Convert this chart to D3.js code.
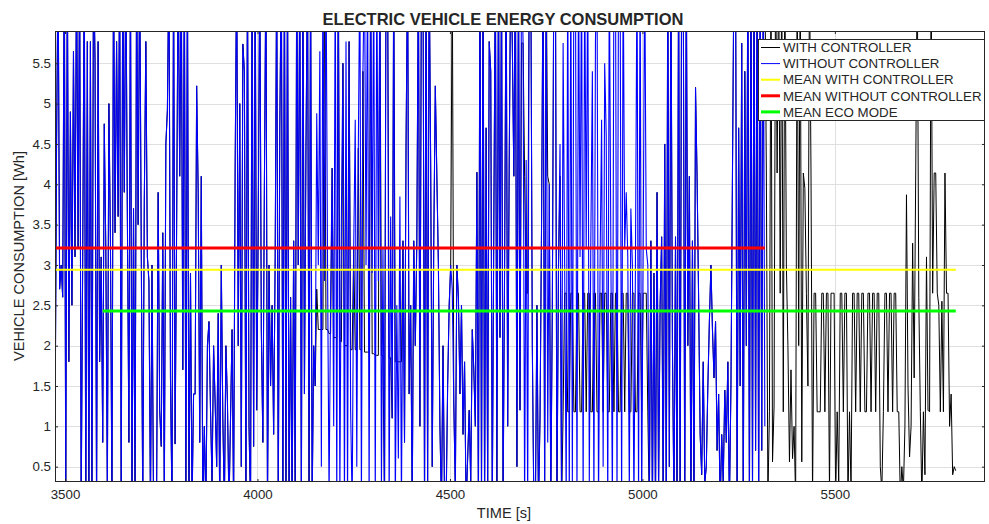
<!DOCTYPE html>
<html>
<head>
<meta charset="utf-8">
<script src="https://cdn.jsdelivr.net/npm/d3@7"></script>
<style>
  body { margin: 0; background: #fff; }
  svg { display: block; }
  text { font-family: "Liberation Sans", Arial, Helvetica, sans-serif; fill: #262626; }
</style>
</head>
<body>
<svg id="chart" width="989" height="524"></svg>
<script>
// Sampling of both consumption traces (seconds)
const timeStart = 3474;
const timeStep = 4;

// Energy consumption without controller [Wh]
const withoutController = [
  0.8, 4.45, 6.8, 2.7, 3.0, 2.6, 6.8, 0.2, 6.8, 1.8, 4.9, 2.5, 5.65,
  3.1, 6.8, 3.2, 6.8, 0.0, 3.1, 6.8, 0.0, 5.77, 0.1, 5.77, 0.0, 6.8,
  5.54, 0.0, 5.77, 1.8, 3.1, 0.8, 4.75, 3.2, 0.2, 5.0, 3.3, 0.0, 6.8,
  3.4, 5.77, 3.6, 6.8, 0.0, 6.8, 3.9, 6.8, 3.6, 0.8, 6.8, 0.0, 3.7,
  0.1, 6.8, 3.5, 6.8, 3.3, 0.0, 3.8, 5.77, 3.1, 2.8, 0.0, 3.0, 0.0,
  0.0, 0.2, 3.9, 1.2, 0.75, 3.4, 0.1, 4.5, 4.92, 6.8, 1.6, 0.0, 6.8,
  0.78, 3.5, 6.8, 4.1, 6.8, 1.7, 6.8, 0.1, 6.8, 0.0, 2.9, 0.0, 1.4,
  1.4, 5.22, 3.9, 0.8, 4.1, 0.0, 1.0, 0.0, 2.0, 2.3, 1.2, 0.3, 2.0,
  1.3, 0.5, 2.4, 0.0, 3.0, 1.1, 0.0, 2.0, 1.3, 0.0, 1.1, 2.2, 0.0,
  4.2, 6.8, 2.0, 5.0, 0.5, 5.74, 5.4, 0.0, 6.8, 1.0, 0.0, 6.8, 0.75,
  6.8, 1.2, 3.5, 6.8, 2.2, 0.8, 4.0, 6.8, 0.0, 3.0, 1.5, 2.5, 0.9,
  3.1, 6.8, 0.0, 4.7, 6.8, 0.0, 6.8, 0.1, 6.8, 0.0, 2.6, 0.0, 3.3,
  0.2, 6.8, 3.0, 6.8, 0.0, 6.8, 1.4, 4.45, 6.8, 0.3, 6.8, 0.0, 2.0,
  1.5, 4.88, 3.0, 5.65, 0.5, 6.8, 2.8, 6.8, 3.0, 0.1, 2.6, 4.2, 1.0,
  6.8, 0.0, 6.8, 0.1, 3.6, 5.5, 0.0, 5.77, 0.0, 5.77, 1.2, 0.0, 3.2,
  4.8, 0.5, 4.45, 6.8, 0.0, 5.4, 6.8, 3.0, 6.8, 0.0, 6.8, 2.9, 6.8,
  0.0, 6.8, 2.8, 6.8, 0.2, 3.2, 0.0, 6.8, 6.8, 0.0, 3.6, 1.1, 6.8,
  0.0, 2.5, 0.6, 3.85, 0.0, 3.3, 0.8, 4.5, 6.8, 1.4, 2.5, 0.0, 3.3,
  2.0, 3.3, 6.8, 1.0, 6.8, 6.8, 0.0, 6.8, 0.2, 6.8, 4.2, 0.5, 3.3,
  5.22, 4.1, 3.0, 1.0, 0.0, 2.0, 0.1, 0.0, 1.5, 2.5, 3.0, 2.7, 1.3,
  0.2, 3.0, 2.6, 1.4, 2.5, 0.9, 1.8, 0.0, 0.6, 1.2, 0.3, 2.2, 1.7,
  1.0, 4.15, 0.0, 6.8, 0.1, 6.8, 0.0, 4.7, 0.2, 5.77, 5.4, 0.0, 3.5,
  6.8, 0.3, 6.8, 2.1, 6.8, 0.0, 3.0, 6.8, 1.0, 4.3, 6.8, 5.75, 4.1,
  6.8, 0.5, 6.8, 1.2, 6.8, 5.75, 0.0, 4.3, 0.0, 6.8, 6.8, 2.0, 0.0,
  0.0, 2.5, 0.0, 1.1, 3.5, 6.8, 0.2, 6.8, 0.8, 4.0, 0.0, 2.5, 6.8,
  6.8, 0.0, 3.0, 4.5, 0.0, 5.75, 3.0, 0.1, 6.8, 0.0, 6.8, 0.3, 6.8,
  6.8, 0.0, 6.8, 3.1, 6.8, 0.0, 6.8, 3.2, 6.8, 0.3, 3.3, 5.4, 0.0,
  5.77, 6.8, 0.0, 3.0, 4.8, 0.5, 5.5, 4.6, 0.0, 6.8, 3.2, 0.0, 6.8,
  6.8, 0.0, 6.8, 6.8, 0.0, 6.8, 3.2, 3.9, 3.1, 0.2, 3.7, 3.0, 0.0,
  3.1, 6.8, 0.0, 6.8, 0.1, 3.2, 6.8, 3.2, 3.0, 0.0, 3.3, 0.0, 2.9,
  0.0, 3.9, 0.2, 2.5, 3.35, 0.0, 4.5, 0.0, 6.8, 0.5, 6.8, 2.0, 0.0,
  3.35, 0.0, 6.8, 0.1, 6.8, 6.8, 0.0, 6.8, 2.0, 4.1, 0.0, 3.3, 0.0,
  5.2, 4.1, 2.6, 0.9, 0.4, 1.8, 0.3, 0.5, 1.5, 2.3, 3.0, 2.2, 1.6,
  2.3, 0.7, 1.4, 0.0, 0.9, 0.3, 1.45, 0.8, 1.8, 0.0, 1.5, 4.15, 6.8,
  6.8, 0.0, 4.7, 1.5, 5.75, 0.0, 5.4, 2.0, 6.8, 0.0, 6.8, 0.2, 6.8,
  0.7, 6.8, 0.0, 6.8, 0.7, 6.8, 1.0
];

// Energy consumption with controller [Wh]
const withController = [
  0.8, 4.45, 6.8, 2.7, 3.0, 2.6, 6.8, 0.2, 6.8, 1.8, 4.9, 2.5, 5.65,
  3.1, 6.8, 3.2, 6.8, 0.0, 3.1, 6.8, 0.0, 5.77, 0.1, 5.77, 0.0, 6.8,
  5.54, 0.0, 5.77, 1.8, 3.1, 0.8, 4.75, 3.2, 0.2, 5.0, 3.3, 0.0, 6.8,
  3.4, 5.77, 3.6, 6.8, 0.0, 6.8, 3.9, 6.8, 3.6, 0.8, 6.8, 0.0, 3.7,
  0.1, 6.8, 3.5, 6.8, 3.3, 0.0, 3.8, 5.77, 3.1, 2.8, 0.0, 3.0, 0.0,
  0.0, 0.2, 3.9, 1.2, 0.75, 3.4, 0.1, 4.5, 4.92, 6.8, 1.6, 0.0, 6.8,
  0.78, 3.5, 6.8, 4.1, 6.8, 1.7, 6.8, 0.1, 6.8, 0.0, 2.9, 0.0, 1.4,
  1.4, 5.22, 3.9, 0.8, 4.1, 0.0, 1.0, 0.0, 2.0, 2.3, 1.2, 0.3, 2.0,
  1.3, 0.5, 2.4, 0.0, 3.0, 1.1, 0.0, 2.0, 1.3, 0.0, 1.1, 2.2, 0.0,
  4.2, 6.8, 2.0, 5.0, 0.5, 5.74, 5.4, 0.0, 6.8, 1.0, 0.0, 6.8, 0.75,
  6.8, 1.2, 3.5, 6.8, 2.2, 0.8, 4.0, 6.8, 0.0, 3.0, 1.5, 2.5, 0.9,
  3.1, 6.8, 0.0, 4.7, 6.8, 0.0, 6.8, 0.1, 6.8, 0.0, 2.6, 0.0, 3.3,
  0.2, 6.8, 3.0, 6.8, 0.0, 6.8, 1.4, 4.45, 6.8, 0.3, 6.8, 0.0, 2.0,
  1.5, 2.7, 2.2, 2.2, 2.2, 2.2, 6.8, 2.2, 2.2, 2.15, 2.15, 4.2, 2.1,
  2.1, 2.1, 6.8, 2.05, 2.05, 5.5, 2.0, 2.0, 2.0, 5.77, 1.95, 1.95, 3.2,
  1.95, 1.95, 4.45, 1.95, 1.95, 5.4, 1.92, 1.92, 1.92, 1.92, 6.8, 1.9, 1.9,
  1.88, 1.88, 1.88, 6.8, 1.88, 1.88, 0.0, 6.8, 6.8, 1.85, 1.85, 1.1, 6.8,
  1.8, 1.8, 1.8, 1.8, 1.8, 3.3, 0.8, 4.5, 6.8, 1.4, 2.5, 0.0, 3.3,
  2.0, 3.3, 6.8, 1.0, 6.8, 6.8, 0.0, 6.8, 0.2, 6.8, 4.2, 0.5, 3.3,
  5.22, 4.1, 3.0, 1.0, 0.0, 2.0, 0.1, 0.0, 1.5, 2.5, 3.0, 6.8, 1.3,
  0.2, 3.0, 2.6, 1.4, 2.5, 0.9, 1.8, 0.0, 0.6, 1.2, 0.3, 2.2, 1.7,
  1.0, 4.15, 0.0, 6.8, 0.1, 6.8, 0.0, 4.7, 0.2, 5.77, 5.4, 0.0, 3.5,
  6.8, 0.3, 6.8, 2.1, 6.8, 0.0, 3.0, 6.8, 1.0, 4.3, 6.8, 5.75, 4.1,
  6.8, 0.5, 6.8, 1.2, 5.75, 5.75, 4.1, 2.65, 2.65, 6.8, 6.8, 2.0, 0.0,
  0.0, 2.5, 0.0, 1.1, 3.5, 6.8, 0.2, 6.8, 4.1, 4.0, 0.0, 2.5, 6.8,
  6.8, 0.0, 3.0, 4.1, 0.0, 1.18, 2.65, 2.65, 1.18, 1.18, 2.65, 2.65, 1.18,
  1.18, 2.65, 2.65, 1.18, 1.18, 2.65, 2.65, 1.18, 2.65, 2.65, 1.18, 1.18, 2.65,
  2.65, 1.18, 1.18, 2.65, 2.65, 1.18, 2.65, 2.65, 1.18, 1.18, 2.65, 2.65, 1.18,
  2.65, 2.65, 1.18, 1.18, 2.65, 2.65, 1.18, 2.65, 2.65, 1.18, 1.18, 2.65, 2.65,
  1.18, 1.18, 2.65, 2.65, 1.18, 2.65, 2.65, 2.65, 1.18, 0.0, 3.3, 0.0, 2.9,
  0.0, 3.9, 0.2, 2.5, 3.35, 0.0, 4.5, 0.0, 6.8, 0.5, 6.8, 2.0, 0.0,
  3.35, 0.0, 6.8, 0.1, 6.8, 6.8, 0.0, 6.8, 2.0, 4.1, 0.0, 3.3, 0.0,
  5.2, 4.1, 2.6, 0.9, 0.4, 1.8, 0.3, 0.5, 1.5, 2.3, 3.0, 2.2, 1.6,
  2.3, 0.7, 1.4, 0.0, 0.9, 0.3, 1.45, 0.8, 1.8, 0.0, 1.5, 4.15, 6.8,
  6.8, 0.0, 4.7, 1.5, 5.75, 0.0, 5.4, 2.0, 6.8, 0.0, 6.8, 0.2, 6.8,
  0.7, 6.8, 0.0, 6.8, 0.7, 6.8,
  6.8, 4.14, 0.1, 1.18, 6.8, 0.56, 1.24, 6.8, 4.14, 6.8, 2.65, 6.8, 1.18,
  6.8, 3.0, 2.0, 0.56, 1.7, 0.6, 1.0, 0.1, 6.8, 2.0, 6.8, 0.56, 4.14,
  3.95, 2.65, 1.5, 6.8, 4.14,
  0.1, 2.65, 2.65, 1.18, 1.18, 1.18, 2.65, 2.65, 1.18, 2.65, 2.65, 0.2,
  2.65, 2.65, 2.65, 0.1, 1.18, 0.3, 2.65, 2.65, 1.18, 2.65, 2.65, 0.1,
  1.18, 0.2, 2.65, 2.65, 1.18, 2.65, 2.65, 1.18, 2.65, 2.65, 1.18, 1.18,
  2.65, 2.65, 1.18, 2.65, 2.65, 1.18, 2.65, 2.65, 0.5, 0.2, 1.18,
  2.65, 2.65, 1.18, 2.65, 2.65, 1.18, 2.65, 2.65, 1.18, 1.18, 0.1, 0.5, 0.2,
  1.0, 3.87, 1.5, 0.62, 1.0, 3.27, 1.6, 4.14, 6.8, 2.6, 1.18, 0.1, 1.18,
  0.4, 3.1, 1.2, 1.18, 6.8, 2.65, 4.14, 4.14, 2.65, 2.5, 1.18, 2.55, 1.18,
  4.14, 2.65, 2.65, 1.0, 1.4, 0.4, 0.5, 0.45
];

// Mean levels [Wh]
const meanWithController = 2.94;
const meanWithoutController = 3.21;
const meanEcoMode = 2.43;
const ecoModeSpan = [3598, 5814];

// Axes
const xDomain = [3474, 5890];
const yDomain = [0.31, 5.9];
const xTicks = [3500, 4000, 4500, 5000, 5500];
const yTicks = [0.5, 1, 1.5, 2, 2.5, 3, 3.5, 4, 4.5, 5, 5.5];

const legendLabels = ["WITH CONTROLLER", "WITHOUT CONTROLLER", "MEAN WITH CONTROLLER",
                      "MEAN WITHOUT CONTROLLER", "MEAN ECO MODE"];

const plot = { left: 55, right: 985, top: 31, bottom: 482 };
const axisColor = "#262626";

const svg = d3.select("#chart");
svg.append("rect").attr("width", 989).attr("height", 524).attr("fill", "#fff");

const x = d3.scaleLinear().domain(xDomain).range([plot.left, plot.right]);
const y = d3.scaleLinear().domain(yDomain).range([plot.bottom, plot.top]);

svg.append("defs").append("clipPath").attr("id", "plotClip")
  .append("rect")
  .attr("x", plot.left).attr("y", plot.top)
  .attr("width", plot.right - plot.left).attr("height", plot.bottom - plot.top);

// Grid
const grid = svg.append("g").attr("stroke", "#dfdfdf").attr("stroke-width", 1);
grid.selectAll("line.gx").data(xTicks).join("line")
  .attr("x1", d => Math.round(x(d)) + 0.5).attr("x2", d => Math.round(x(d)) + 0.5)
  .attr("y1", plot.top).attr("y2", plot.bottom);
grid.selectAll("line.gy").data(yTicks).join("line")
  .attr("y1", d => Math.round(y(d)) + 0.5).attr("y2", d => Math.round(y(d)) + 0.5)
  .attr("x1", plot.left).attr("x2", plot.right);

const tAt = i => timeStart + i * timeStep;
const trace = d3.line().x((d, i) => x(tAt(i))).y(d => y(d));
const data = svg.append("g").attr("clip-path", "url(#plotClip)");

data.append("path").attr("d", trace(withController))
  .attr("fill", "none").attr("stroke", "#000").attr("stroke-width", 1);
data.append("path").attr("d", trace(withoutController))
  .attr("fill", "none").attr("stroke", "#0000ff").attr("stroke-width", 1.1);

const withSpan = [tAt(0), tAt(withController.length - 1)];
const withoutSpan = [tAt(0), tAt(withoutController.length - 1)];

const hline = (span, v, color, w) => data.append("line")
  .attr("x1", x(span[0])).attr("x2", x(span[1]))
  .attr("y1", y(v)).attr("y2", y(v))
  .attr("stroke", color).attr("stroke-width", w);

hline(withSpan, meanWithController, "#ffff00", 2);
hline(withoutSpan, meanWithoutController, "#ff0000", 3);
hline(ecoModeSpan, meanEcoMode, "#00ff00", 3);

// Axes
const fmt = d => String(d);
const gx = svg.append("g").attr("transform", `translate(0,${plot.bottom})`)
  .call(d3.axisBottom(x).tickValues(xTicks).tickSize(-3).tickPadding(8).tickFormat(fmt));
const gy = svg.append("g").attr("transform", `translate(${plot.left},0)`)
  .call(d3.axisLeft(y).tickValues(yTicks).tickSize(-3).tickPadding(4).tickFormat(fmt));
const gt = svg.append("g").attr("transform", `translate(0,${plot.top})`)
  .call(d3.axisTop(x).tickValues(xTicks).tickSize(-3).tickFormat(""));
const gr = svg.append("g").attr("transform", `translate(${plot.right},0)`)
  .call(d3.axisRight(y).tickValues(yTicks).tickSize(-3).tickFormat(""));

[gx, gy, gt, gr].forEach(g => {
  g.select(".domain").remove();
  g.selectAll(".tick line").attr("stroke", axisColor);
  g.selectAll(".tick text").attr("fill", axisColor).style("font-size", "13.3px")
    .style("font-family", '"Liberation Sans", Arial, sans-serif');
});

svg.append("rect")
  .attr("x", plot.left + 0.5).attr("y", plot.top + 0.5)
  .attr("width", plot.right - plot.left - 1).attr("height", plot.bottom - plot.top - 1)
  .attr("fill", "none").attr("stroke", axisColor).attr("stroke-width", 1);

// Titles
svg.append("text").attr("x", 503).attr("y", 24.5).attr("text-anchor", "middle")
  .style("font-size", "16.5px").style("font-weight", "bold").attr("fill", "#000")
  .text("ELECTRIC VEHICLE ENERGY CONSUMPTION");
svg.append("text").attr("x", 504).attr("y", 518).attr("text-anchor", "middle")
  .style("font-size", "14.6px").text("TIME [s]");
svg.append("text").attr("transform", "translate(24,256) rotate(-90)").attr("text-anchor", "middle")
  .style("font-size", "14.6px").text("VEHICLE CONSUMPTION [Wh]");

// Legend
const legendStyle = [
  { color: "#000", width: 1 },
  { color: "#0000ff", width: 1 },
  { color: "#ffff00", width: 2 },
  { color: "#ff0000", width: 3 },
  { color: "#00ff00", width: 3 }
];
const lg = svg.append("g");
lg.append("rect").attr("x", 758.5).attr("y", 39.5).attr("width", 226).attr("height", 81)
  .attr("fill", "#fff").attr("stroke", axisColor).attr("stroke-width", 1);
const rows = lg.selectAll("g.row").data(legendLabels).join("g")
  .attr("transform", (d, i) => `translate(0,${47.5 + i * 16.1})`);
rows.append("line").attr("x1", 761).attr("x2", 780).attr("y1", 0).attr("y2", 0)
  .attr("stroke", (d, i) => legendStyle[i].color)
  .attr("stroke-width", (d, i) => legendStyle[i].width);
rows.append("text").attr("x", 783).attr("y", 0).attr("dy", "0.36em")
  .style("font-size", "13.3px").attr("fill", "#000").text(d => d);
</script>
</body>
</html>
